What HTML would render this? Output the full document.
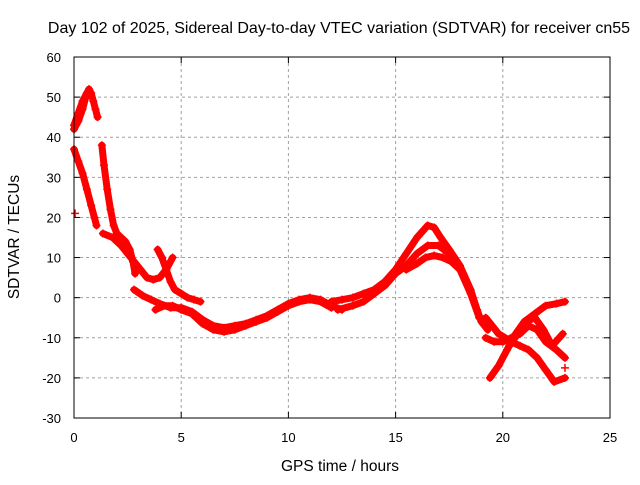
<!DOCTYPE html>
<html><head><meta charset="utf-8"><style>
body{margin:0;background:#fff}
svg text{font-family:"Liberation Sans",sans-serif;font-size:13px;fill:#000}
svg text.big{font-size:15.5px}
svg text.title{font-size:16px}
</style></head><body>
<svg id="c" width="640" height="480">
<text class="title" x="339" y="33" text-anchor="middle">Day 102 of 2025, Sidereal Day-to-day VTEC variation (SDTVAR) for receiver cn55</text>
<text class="big" x="340" y="471" text-anchor="middle">GPS time / hours</text>
<text class="big" transform="translate(19,237) rotate(-90)" text-anchor="middle">SDTVAR / TECUs</text>
<g id="grid"></g><g id="marks"></g>
<rect x="74" y="57" width="536" height="361" fill="none" stroke="#000" stroke-width="1"/>
<g id="ticks"></g>
</svg>
<script>
const xTicks=[0,5,10,15,20,25];
const yTicks=[-30,-20,-10,0,10,20,30,40,50,60];
const t1x=[0,0.2,0.4,0.6,0.7,0.8,0.9,1.0,1.1];
const t1y=[43,46,49,51,52,51,49,47,45];
const t1bx=[0,0.2,0.4,0.6];const t1by=[42,44,47,51];
const t2x=[0,0.2,0.4,0.6,0.8,0.95,1.05];
const t2y=[37,34,31,27,23,20,18];
const t3x=[1.3,1.4,1.55,1.7,1.85,2.0,2.2,2.4,2.6,2.75,2.85];
const t3y=[38,33,27,22,18,16,15,14,12,9,6];
const t4x=[1.35,1.8,2.2,2.5,2.8,3.1,3.4,3.7,4.0,4.3,4.6];
const t4y=[16,15,13,11,9,7,5,4.5,5,7,10];
const t5x=[3.9,4.1,4.3,4.5,4.7,5.0,5.3,5.6,5.9];
const t5y=[12,10,7,4,2,1,0,-0.5,-1];
const t6x=[2.8,3.2,3.6,4.0,4.5,5.0,5.5,6.0,6.5,7.0,7.5,8.0,8.5,9.0,9.5,10,10.5,11,11.5,12,12.5];
const t6y=[2,0.5,-0.5,-1.5,-2.5,-2.5,-3.5,-5.5,-7,-7.5,-7,-6.5,-5.5,-4.5,-3,-1.5,-0.5,0,-0.5,-2,-3];
const t7x=[3.8,4.2,4.6,5.0,5.5,6.0,6.5,7.0,7.5,8.0,8.5,9.0,9.5,10,10.5,11,11.5,12];
const t7y=[-3,-2,-2,-3,-4,-6.5,-8,-8.5,-8,-7,-6,-5,-3.5,-2,-1,-0.5,-1,-2.5];
const t8x=[12,12.5,13,13.5,14,14.5,15,15.5,16,16.5,16.8,17.1,17.5,18,18.5,18.8,19,19.3];
const t8y=[-1,-0.5,0,1,2,4,7,11,15,18,17.5,15,12,8,2,-3,-6,-8];
const t9x=[12.3,13,13.5,14,14.5,15,15.5,16,16.5,17,17.5,18,18.5,18.9];
const t9y=[-3,-2,-1,1,3,6,8,11,13,13,11,7,1,-5];
const t10x=[15.5,16,16.4,16.8,17.2,17.6,18];
const t10y=[7,8.5,10,10.5,10,9,7];
const t11x=[19.2,19.5,19.8,20.1,20.4,20.8,21.2,21.6,22,22.4,22.9];
const t11y=[-5,-7,-9,-10,-11,-12,-13,-15,-18,-21,-20];
const t12x=[19.4,19.8,20.2,20.6,21,21.5,22,22.5,22.9];
const t12y=[-20,-17,-13,-9,-6,-4,-2,-1.5,-1];
const t13x=[19.2,19.6,20,20.4,20.8,21.2,21.6,22,22.5,22.9];
const t13y=[-10,-11,-11,-10,-9,-7,-8,-11,-13,-15];
const t14x=[20.3,20.7,21.1,21.5,21.9,22.3,22.8];
const t14y=[-12,-9,-6,-5,-8,-12,-9];
const tracks=[[t1x,t1y],[t1bx,t1by],[t2x,t2y],[t3x,t3y],[t4x,t4y],[t5x,t5y],[t6x,t6y],[t7x,t7y],[t8x,t8y],[t9x,t9y],[t10x,t10y],[t11x,t11y],[t12x,t12y],[t13x,t13y],[t14x,t14y]];
const single=[[0.05,21],[22.9,-17.5]];
const X=v=>74+v*536/25, Y=v=>418-(v+30)*361/90;
const NS="http://www.w3.org/2000/svg";
const g=document.getElementById('grid'),tk=document.getElementById('ticks'),m=document.getElementById('marks');
function el(p,t,a){const e=document.createElementNS(NS,t);for(const k in a)e.setAttribute(k,a[k]);p.appendChild(e);return e;}
xTicks.forEach(v=>{const x=X(v);
 if(v>0&&v<25){const l=el(g,'line',{x1:x,x2:x,y1:57,y2:418,stroke:'#a0a0a0','stroke-dasharray':'3,3'});
 }
 const t=el(tk,'text',{x:x,y:442,'text-anchor':'middle'});t.textContent=v;
 
 el(tk,'line',{x1:x,x2:x,y1:418,y2:412,stroke:'#000'});el(tk,'line',{x1:x,x2:x,y1:57,y2:63,stroke:'#000'});});
yTicks.forEach(v=>{const y=Y(v);
 if(v>-30&&v<60){const l=el(g,'line',{x1:74,x2:610,y1:y,y2:y,stroke:'#a0a0a0','stroke-dasharray':'3,3'});
 }
 const t=el(tk,'text',{x:61,y:y+5,'text-anchor':'end'});t.textContent=v;
 
 el(tk,'line',{x1:74,x2:80,y1:y,y2:y,stroke:'#000'});el(tk,'line',{x1:610,x2:604,y1:y,y2:y,stroke:'#000'});});
function plus(x,y){const p=el(m,'path',{d:`M${x-4} ${y}h8M${x} ${y-4}v8`,stroke:'#f00','stroke-width':1.5});
 }
tracks.forEach(([xs,ys])=>{
 const pl=el(m,'polyline',{points:xs.map((v,i)=>X(v)+','+Y(ys[i])).join(' '),fill:'none',stroke:'#f00','stroke-width':7,'stroke-linejoin':'round','stroke-linecap':'round'});
 
 xs.forEach((v,i)=>plus(X(v),Y(ys[i])));});
single.forEach(([a,b])=>plus(X(a),Y(b)));
</script>
</body></html>
